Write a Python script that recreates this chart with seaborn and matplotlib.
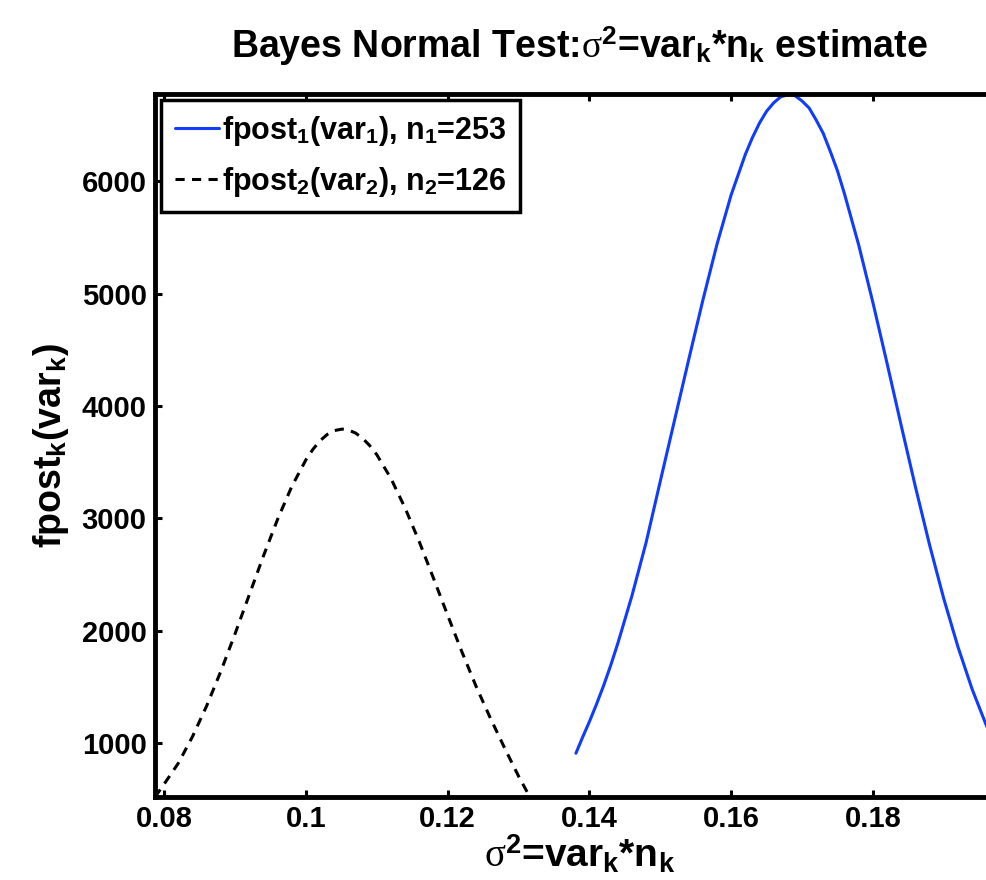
import pandas as pd
import numpy as np
import seaborn as sns
import matplotlib.pyplot as plt

# posterior for group 1 (blue)
var1 = [0.1381, 0.139, 0.140, 0.141, 0.142, 0.143, 0.144, 0.146, 0.148, 0.150,
        0.152, 0.154, 0.156, 0.158, 0.160, 0.161, 0.162, 0.163, 0.164, 0.165,
        0.166, 0.167, 0.168, 0.1682, 0.169, 0.170, 0.171, 0.172, 0.173, 0.174,
        0.175, 0.176, 0.178, 0.180, 0.182, 0.184, 0.186, 0.188, 0.190, 0.192,
        0.194, 0.196, 0.198]
fpost1 = [909, 1045, 1190, 1345, 1510, 1690, 1885, 2310, 2785, 3330,
          3870, 4410, 4940, 5440, 5880, 6060, 6240, 6390, 6520, 6625,
          6700, 6754, 6772, 6775, 6765, 6717, 6655, 6547, 6428, 6267,
          6096, 5889, 5435, 4924, 4382, 3827, 3283, 2765, 2287, 1858,
          1481, 1159, 891]

# posterior for group 2 (black dashed)
var2 = [0.0787, 0.080, 0.082, 0.084, 0.086, 0.088, 0.090, 0.092, 0.094, 0.096,
        0.098, 0.100, 0.101, 0.102, 0.103, 0.104, 0.1051, 0.106, 0.107, 0.108,
        0.109, 0.110, 0.112, 0.114, 0.116, 0.118, 0.120, 0.122, 0.124, 0.126,
        0.128, 0.130, 0.1316]
fpost2 = [519, 635, 821, 1058, 1332, 1640, 1973, 2319, 2665, 2992,
          3284, 3522, 3616, 3692, 3747, 3782, 3795, 3787, 3760, 3713,
          3648, 3567, 3355, 3091, 2791, 2467, 2137, 1813, 1506, 1225,
          960, 705, 519]

labels = [r'fpost$_{\mathbf{1}}$(var$_{\mathbf{1}}$), n$_{\mathbf{1}}$=253',
          r'fpost$_{\mathbf{2}}$(var$_{\mathbf{2}}$), n$_{\mathbf{2}}$=126']

df = pd.concat([
    pd.DataFrame({'var': var1, 'fpost': fpost1, 'series': labels[0]}),
    pd.DataFrame({'var': var2, 'fpost': fpost2, 'series': labels[1]}),
])

sns.set_style("ticks")
plt.rcParams['font.family'] = ['Liberation Sans', 'DejaVu Sans']
plt.rcParams['font.weight'] = 'bold'
plt.rcParams['text.color'] = 'black'
plt.rcParams['axes.labelcolor'] = 'black'
plt.rcParams['axes.edgecolor'] = 'black'
plt.rcParams['xtick.color'] = 'black'
plt.rcParams['ytick.color'] = 'black'
plt.rcParams['mathtext.fontset'] = 'custom'
plt.rcParams['mathtext.rm'] = 'Liberation Serif:weight=normal'
plt.rcParams['mathtext.it'] = 'Liberation Serif:italic'
plt.rcParams['mathtext.bf'] = 'Liberation Sans:bold'

fig = plt.figure(figsize=(9.86, 8.8), dpi=100)
ax = fig.add_axes([0.1572, 0.0943, 0.861, 0.7989])

sns.lineplot(data=df, x='var', y='fpost', hue='series', style='series',
             palette={labels[0]: '#0f3cff', labels[1]: 'black'},
             dashes={labels[0]: '', labels[1]: (3, 2.4)},
             linewidth=2.2, sort=False, ax=ax)

ax.set_xlim(0.0787, 0.1985)
ax.set_ylim(519, 6779)
ax.set_xticks([0.08, 0.1, 0.12, 0.14, 0.16, 0.18])
ax.set_xticklabels(['0.08', '0.1', '0.12', '0.14', '0.16', '0.18'])
ax.set_yticks([1000, 2000, 3000, 4000, 5000, 6000])

for s in ax.spines.values():
    s.set_linewidth(3.5)
ax.spines['right'].set_visible(False)
ax.tick_params(direction='in', length=5, width=2.2, labelsize=21, pad=6,
               top=True, right=False)
for t in ax.get_xticklabels() + ax.get_yticklabels():
    t.set_fontweight('bold')

ax.set_title(r'Bayes Normal Test:$\mathrm{\sigma}^{\mathbf{2}}$=var$_{\mathbf{k}}$*n$_{\mathbf{k}}$ estimate',
             fontsize=27, fontweight='bold', pad=26)
ax.set_xlabel(r'$\mathrm{\sigma}^{\mathbf{2}}$=var$_{\mathbf{k}}$*n$_{\mathbf{k}}$',
              fontsize=28, fontweight='bold', labelpad=0)
ax.set_ylabel(r'fpost$_{\mathbf{k}}$(var$_{\mathbf{k}}$)', fontsize=27,
              fontweight='bold', labelpad=8)

leg = ax.legend(loc='upper left', fontsize=22, frameon=True, fancybox=False,
                borderaxespad=0.2, handlelength=1.45, handletextpad=0.1,
                labelspacing=0.55, borderpad=0.45)
leg.get_frame().set_edgecolor('black')
leg.get_frame().set_linewidth(2.5)
leg.get_frame().set_alpha(1)
for t in leg.get_texts():
    t.set_fontweight('bold')

plt.savefig("out.png", dpi=100)
